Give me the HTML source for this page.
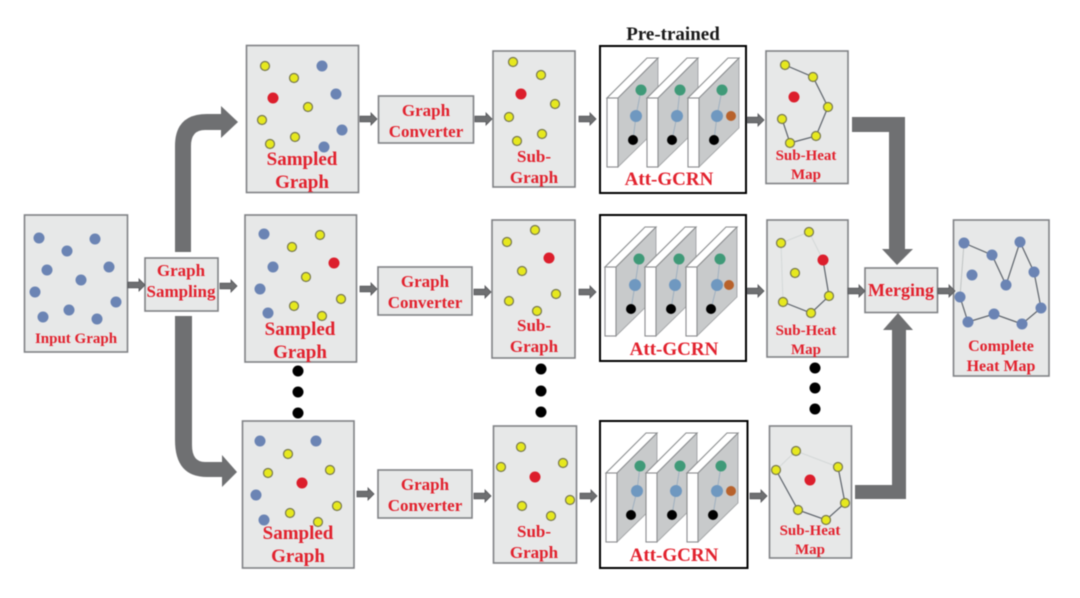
<!DOCTYPE html>
<html><head><meta charset="utf-8">
<style>
html,body{margin:0;padding:0;background:#fff;width:1080px;height:598px;overflow:hidden}
svg{display:block;filter:blur(.65px)}
text{font-family:"Liberation Serif",serif;font-weight:bold;fill:#e2222e;text-anchor:middle}
.b{fill:#e7e8e8;stroke:#808285;stroke-width:1.6}
.y{fill:#e6e81e;stroke:#77784e;stroke-width:1.2}
.u{fill:#6b84b4}
.r{fill:#dc1e2c}
.k{fill:#000}
.g{fill:#6f7072}
.l{fill:none;stroke:#5c626a;stroke-width:1.2}
.f{fill:none;stroke:#d4d8d8;stroke-width:1}
.s{fill:#6f7072;stroke:#55565a;stroke-width:.8}
.h{fill:none;stroke:#000;stroke-width:2}
.w{fill:#fff;stroke:#8a8c8e;stroke-width:1.1}
.p{fill:#c8cacb;stroke:#9a9c9e;stroke-width:.8}
.c{fill:none;stroke:#9fb0bf;stroke-width:1}
.gn{fill:#3f9a78}.gn circle{r:5.5px}
.bl{fill:#6f98c0}.bl circle{r:6px}
.pk circle{r:5px}
.or{fill:#b8622c;r:5px}
</style></head><body>
<svg width="1080" height="598" viewBox="0 0 1080 598" xmlns="http://www.w3.org/2000/svg">
<defs>
<path id="a" d="M0 -2.8H11V-6L17 0L11 6V2.8H0Z" class="s"/>
<g id="pan">
<path class="p" d="M11 40L51 0V70L11 109Z"/>
<path class="w" d="M0 40L40 0H51L11 40Z"/>
<rect class="w" x="0" y="40" width="11" height="69"/>
</g>
</defs>

<!-- thick arrows -->
<path class="g" d="M175 252V146Q175 114 207 114H221V106L238 122L221 138V130H205Q191 130 191 146V252Z"/>
<path class="g" d="M175 316V440Q175 477 207 477H222V487L237 472L222 455V462H205Q192 462 192 445V316Z"/>
<path class="g" d="M852 117H905V249H913L897 265L882 249H889V132H852Z"/>
<path class="g" d="M855 499H906V330H913L898 313L883 330H892V485H855Z"/>

<!-- input -->
<rect class="b" x="24.500" y="215" width="103" height="137"/>
<g class="u"><circle cx="39" cy="238" r="5.500"/><circle cx="95" cy="239" r="5.500"/><circle cx="67" cy="251" r="5.500"/><circle cx="47" cy="270" r="5.500"/><circle cx="109" cy="267" r="5.500"/><circle cx="81" cy="280" r="5.500"/><circle cx="35" cy="292" r="5.500"/><circle cx="116" cy="302" r="5.500"/><circle cx="43" cy="317" r="5.500"/><circle cx="69" cy="310" r="5.500"/><circle cx="97" cy="319" r="5.500"/></g>
<text x="76" y="343" font-size="15">Input Graph</text>

<!-- graph sampling -->
<rect class="b" x="145" y="258" width="73" height="53"/>
<text x="181" y="276" font-size="17">Graph</text>
<text x="181" y="297" font-size="17">Sampling</text>

<!-- sampled 1 -->
<rect class="b" x="246.500" y="45.500" width="112" height="147"/>
<g class="y"><circle cx="265" cy="66" r="4.500"/><circle cx="294" cy="78" r="4.500"/><circle cx="308" cy="107" r="4.500"/><circle cx="262" cy="120" r="4.500"/><circle cx="295" cy="137" r="4.500"/><circle cx="270" cy="144" r="4.500"/></g>
<g class="u"><circle cx="322" cy="66" r="5.500"/><circle cx="336" cy="94" r="5.500"/><circle cx="342" cy="130" r="5.500"/><circle cx="324" cy="147" r="5.500"/></g>
<circle class="r" cx="273" cy="98" r="5.500"/>
<text x="302" y="165" font-size="19">Sampled</text>
<text x="302" y="188" font-size="19">Graph</text>

<!-- sampled 2 -->
<rect class="b" x="245" y="215" width="111.500" height="147"/>
<g class="u"><circle cx="264" cy="234" r="5.500"/><circle cx="273" cy="267" r="5.500"/><circle cx="260" cy="289" r="5.500"/><circle cx="268" cy="313" r="5.500"/></g>
<g class="y"><circle cx="292" cy="247" r="4.500"/><circle cx="320" cy="235" r="4.500"/><circle cx="306" cy="277" r="4.500"/><circle cx="341" cy="299" r="4.500"/><circle cx="294" cy="306" r="4.500"/><circle cx="322" cy="316" r="4.500"/></g>
<circle class="r" cx="334" cy="263" r="5.500"/>
<text x="300" y="335" font-size="19">Sampled</text>
<text x="300" y="358" font-size="19">Graph</text>

<!-- sampled 3 -->
<rect class="b" x="242.500" y="421" width="111.500" height="147"/>
<g class="u"><circle cx="260" cy="441" r="5.500"/><circle cx="316" cy="441" r="5.500"/><circle cx="256" cy="495" r="5.500"/><circle cx="264" cy="520" r="5.500"/></g>
<g class="y"><circle cx="288" cy="454" r="4.500"/><circle cx="268" cy="473" r="4.500"/><circle cx="330" cy="470" r="4.500"/><circle cx="337" cy="506" r="4.500"/><circle cx="290" cy="513" r="4.500"/><circle cx="318" cy="522" r="4.500"/></g>
<circle class="r" cx="302" cy="483" r="5.500"/>
<text x="298" y="539" font-size="19">Sampled</text>
<text x="298" y="562" font-size="19">Graph</text>

<!-- converters -->
<rect class="b" x="378.500" y="96" width="95" height="47"/>
<text x="426" y="116" font-size="17">Graph</text>
<text x="426" y="137" font-size="17">Converter</text>
<rect class="b" x="378" y="267" width="94" height="48"/>
<text x="425" y="287" font-size="17">Graph</text>
<text x="425" y="308" font-size="17">Converter</text>
<rect class="b" x="378" y="470" width="94" height="48"/>
<text x="425" y="490" font-size="17">Graph</text>
<text x="425" y="511" font-size="17">Converter</text>

<!-- subgraphs -->
<rect class="b" x="493" y="51" width="82" height="136"/>
<g class="y"><circle cx="513" cy="62" r="4.500"/><circle cx="541" cy="75" r="4.500"/><circle cx="555" cy="104" r="4.500"/><circle cx="509" cy="117" r="4.500"/><circle cx="542" cy="134" r="4.500"/><circle cx="517" cy="141" r="4.500"/></g>
<circle class="r" cx="521" cy="94" r="5.500"/>
<text x="534" y="162" font-size="17">Sub-</text>
<text x="534" y="183" font-size="17">Graph</text>

<rect class="b" x="492" y="220" width="83" height="138"/>
<g class="y"><circle cx="535" cy="230" r="4.500"/><circle cx="507" cy="242" r="4.500"/><circle cx="522" cy="271" r="4.500"/><circle cx="556" cy="294" r="4.500"/><circle cx="509" cy="301" r="4.500"/><circle cx="537" cy="311" r="4.500"/></g>
<circle class="r" cx="549" cy="258" r="5.500"/>
<text x="534" y="331" font-size="17">Sub-</text>
<text x="534" y="352" font-size="17">Graph</text>

<rect class="b" x="493.500" y="426" width="83" height="137"/>
<g class="y"><circle cx="521" cy="447" r="4.500"/><circle cx="501" cy="467" r="4.500"/><circle cx="563" cy="463" r="4.500"/><circle cx="570" cy="500" r="4.500"/><circle cx="522" cy="506" r="4.500"/><circle cx="551" cy="516" r="4.500"/></g>
<circle class="r" cx="535" cy="477" r="5.500"/>
<text x="534" y="537" font-size="17">Sub-</text>
<text x="534" y="558" font-size="17">Graph</text>

<!-- Att-GCRN boxes -->
<text x="673" y="40" font-size="19" style="fill:#1a1a1a">Pre-trained</text>
<rect class="h" x="600" y="46" width="146" height="147"/>
<rect class="h" x="600" y="215" width="146" height="146"/>
<rect class="h" x="600" y="421" width="147.500" height="147"/>

<use href="#pan" x="607" y="58"/><use href="#pan" x="647" y="58"/><use href="#pan" x="688" y="58"/>
<path class="c" d="M641 90L636 116L633 140M680 90L677 116L672 140M722 90L717 116L714 140"/>
<g class="gn"><circle cx="641" cy="90" r="5"/><circle cx="680" cy="90" r="5"/><circle cx="722" cy="90" r="5"/></g>
<g class="bl"><circle cx="636" cy="116" r="5.500"/><circle cx="677" cy="116" r="5.500"/><circle cx="717" cy="116" r="5.500"/></g>
<circle class="or" cx="731" cy="116" r="4.500"/>
<g class="k pk"><circle cx="633" cy="140" r="4.500"/><circle cx="672" cy="140" r="4.500"/><circle cx="714" cy="140" r="4.500"/></g>
<text x="669" y="185" font-size="19">Att-GCRN</text>

<use href="#pan" x="605" y="227"/><use href="#pan" x="645" y="227"/><use href="#pan" x="686" y="227"/>
<path class="c" d="M639 259L635 285L631 309M679 259L675 285L671 309M720 259L717 285L711 309"/>
<g class="gn"><circle cx="639" cy="259" r="5"/><circle cx="679" cy="259" r="5"/><circle cx="720" cy="259" r="5"/></g>
<g class="bl"><circle cx="635" cy="285" r="5.500"/><circle cx="675" cy="285" r="5.500"/><circle cx="717" cy="285" r="5.500"/></g>
<circle class="or" cx="729" cy="285" r="4.500"/>
<g class="k pk"><circle cx="631" cy="309" r="4.500"/><circle cx="671" cy="309" r="4.500"/><circle cx="711" cy="309" r="4.500"/></g>
<text x="674" y="355" font-size="19">Att-GCRN</text>

<use href="#pan" x="606" y="433"/><use href="#pan" x="646" y="433"/><use href="#pan" x="687" y="433"/>
<path class="c" d="M640 466L637 491L631 515M680 466L676 491L672 515M721 466L717 491L713 515"/>
<g class="gn"><circle cx="640" cy="466" r="5"/><circle cx="680" cy="466" r="5"/><circle cx="721" cy="466" r="5"/></g>
<g class="bl"><circle cx="637" cy="491" r="5.500"/><circle cx="676" cy="491" r="5.500"/><circle cx="717" cy="491" r="5.500"/></g>
<circle class="or" cx="731" cy="491" r="4.500"/>
<g class="k pk"><circle cx="631" cy="515" r="4.500"/><circle cx="672" cy="515" r="4.500"/><circle cx="713" cy="515" r="4.500"/></g>
<text x="674" y="561" font-size="19">Att-GCRN</text>

<!-- sub-heat maps -->
<rect class="b" x="766" y="51" width="82" height="132.500"/>
<path class="l" d="M785 65L813 77L828 107L816 136L790 143L782 119"/>
<g class="y"><circle cx="785" cy="65" r="4.500"/><circle cx="813" cy="77" r="4.500"/><circle cx="828" cy="107" r="4.500"/><circle cx="782" cy="119" r="4.500"/><circle cx="790" cy="143" r="4.500"/><circle cx="816" cy="136" r="4.500"/></g>
<circle class="r" cx="794" cy="97" r="5.500"/>
<text x="806" y="160" font-size="15">Sub-Heat</text>
<text x="806" y="179" font-size="15">Map</text>

<rect class="b" x="767" y="220" width="81" height="137"/>
<path class="f" d="M781 243L809 232L823 260M781 243L783 302"/>
<path class="l" d="M823 260L829 296L811 313L783 302"/>
<g class="y"><circle cx="781" cy="243" r="4.500"/><circle cx="809" cy="232" r="4.500"/><circle cx="795" cy="273" r="4.500"/><circle cx="829" cy="296" r="4.500"/><circle cx="783" cy="302" r="4.500"/><circle cx="811" cy="313" r="4.500"/></g>
<circle class="r" cx="823" cy="260" r="5.500"/>
<text x="806" y="335" font-size="15">Sub-Heat</text>
<text x="806" y="354" font-size="15">Map</text>

<rect class="b" x="769.500" y="426" width="82" height="132"/>
<path class="f" d="M776 470L796 451L838 467"/>
<path class="l" d="M776 470L798 510L826 520L845 503L838 467"/>
<g class="y"><circle cx="796" cy="451" r="4.500"/><circle cx="776" cy="470" r="4.500"/><circle cx="838" cy="467" r="4.500"/><circle cx="845" cy="503" r="4.500"/><circle cx="798" cy="510" r="4.500"/><circle cx="826" cy="520" r="4.500"/></g>
<circle class="r" cx="810" cy="480" r="5.500"/>
<text x="810" y="535" font-size="15">Sub-Heat</text>
<text x="810" y="554" font-size="15">Map</text>

<!-- merging -->
<rect class="b" x="865" y="268" width="72.500" height="44.500"/>
<text x="901" y="296" font-size="18">Merging</text>

<!-- complete -->
<rect class="b" x="953.500" y="220" width="95.500" height="156"/>
<path class="f" d="M964 243L960 297" style="stroke:#bfc3c3"/>
<path class="l" d="M964 243L992 255L1006 285L1020 242L1034 272L1041 308L1022 324L994 314L968 322L960 297"/>
<g class="u"><circle cx="964" cy="243" r="5.500"/><circle cx="992" cy="255" r="5.500"/><circle cx="1020" cy="242" r="5.500"/><circle cx="1034" cy="272" r="5.500"/><circle cx="972" cy="275" r="5.500"/><circle cx="1006" cy="285" r="5.500"/><circle cx="960" cy="297" r="5.500"/><circle cx="1041" cy="308" r="5.500"/><circle cx="968" cy="322" r="5.500"/><circle cx="994" cy="314" r="5.500"/><circle cx="1022" cy="324" r="5.500"/></g>
<text x="1001" y="351" font-size="16">Complete</text>
<text x="1001" y="371" font-size="16">Heat Map</text>

<!-- small arrows -->
<use href="#a" x="128" y="285"/>
<use href="#a" x="220" y="286"/>
<use href="#a" x="360" y="119"/>
<use href="#a" x="475" y="119"/>
<use href="#a" x="579" y="119"/>
<use href="#a" x="747" y="120"/>
<use href="#a" x="360" y="289"/>
<use href="#a" x="474" y="292"/>
<use href="#a" x="579" y="292"/>
<use href="#a" x="747" y="291"/>
<use href="#a" x="848" y="291"/>
<use href="#a" x="938" y="291"/>
<use href="#a" x="357" y="494"/>
<use href="#a" x="474" y="496"/>
<use href="#a" x="580" y="496"/>
<use href="#a" x="750" y="496"/>

<!-- ellipsis dots -->
<g class="k">
<circle cx="298" cy="371" r="5.500"/><circle cx="298" cy="392" r="5.500"/><circle cx="298" cy="413" r="5.500"/>
<circle cx="541" cy="369" r="5.500"/><circle cx="541" cy="391" r="5.500"/><circle cx="541" cy="412" r="5.500"/>
<circle cx="815" cy="368" r="5.500"/><circle cx="815" cy="388" r="5.500"/><circle cx="815" cy="409" r="5.500"/>
</g>
</svg>
</body></html>
